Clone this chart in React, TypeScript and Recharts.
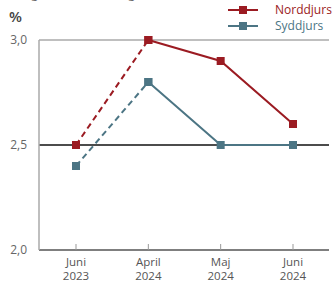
import { LineChart, Line, XAxis, YAxis, ReferenceLine } from 'recharts'

// ─── Data ─────────────────────────────────────────────────────────────────────

const MONTHS = ['Juni', 'April', 'Maj', 'Juni']
const YEARS = ['2023', '2024', '2024', '2024']
const NORDDJURS = [2.5, 3.0, 2.9, 2.6]
const SYDDJURS = [2.4, 2.8, 2.5, 2.5]
const Y_TICKS = [2.0, 2.5, 3.0]

// first segment is dashed, the rest solid -> split each series in two keys
const chartData = MONTHS.map((m, i) => ({
  key: `${m} ${YEARS[i]}`,
  nordDash: i <= 1 ? NORDDJURS[i] : null,
  nordSolid: i >= 1 ? NORDDJURS[i] : null,
  sydDash: i <= 1 ? SYDDJURS[i] : null,
  sydSolid: i >= 1 ? SYDDJURS[i] : null,
}))

const RED = '#9B1B22'
const TEAL = '#4C7584'
const FONT = '"Open Sans", "DejaVu Sans", sans-serif'

// ─── Marks ────────────────────────────────────────────────────────────────────

function square(color: string) {
  // eslint-disable-next-line @typescript-eslint/no-explicit-any
  return (p: any) => {
    if (p.value == null || p.cy == null) return <g key={p.index} />
    return <rect key={p.index} x={p.cx - 4} y={p.cy - 4} width={8} height={8} fill={color} />
  }
}

// eslint-disable-next-line @typescript-eslint/no-explicit-any
function XTick({ x, y, index }: any) {
  return (
    <g>
      <line x1={x} x2={x} y1={y} y2={y - 6} stroke="#999" strokeWidth={1} />
      <text x={x} y={y + 16} textAnchor="middle" fill="#555" fontSize={11.5} fontFamily={FONT}>
        {MONTHS[index]}
      </text>
      <text x={x} y={y + 29.5} textAnchor="middle" fill="#555" fontSize={11.5} fontFamily={FONT}>
        {YEARS[index]}
      </text>
    </g>
  )
}

function LegendRow({ color, label, top }: { color: string; label: string; top: number }) {
  return (
    <div style={{ position: 'absolute', left: 227, top, display: 'flex', alignItems: 'center' }}>
      <svg width={32} height={10}>
        <line x1={1} x2={31} y1={5} y2={5} stroke={color} strokeWidth={2} />
        <rect x={12} y={1} width={8} height={8} fill={color} />
      </svg>
      <span style={{ marginLeft: 16, color, fontSize: 12, fontFamily: FONT, lineHeight: '12px' }}>{label}</span>
    </div>
  )
}

// ─── Component ────────────────────────────────────────────────────────────────

export default function App() {
  return (
    <div style={{ position: 'absolute', left: 0, top: 0, width: 333, height: 282, background: '#fff', overflow: 'hidden' }}>
      <div style={{ position: 'absolute', left: 8, top: -15, fontSize: 12, color: '#666', fontFamily: FONT }}>
        Ledighed, sæsonkorrigeret
      </div>
      <div style={{ position: 'absolute', left: 9, top: 6, fontSize: 15, color: '#444', fontFamily: FONT, fontWeight: 600 }}>
        %
      </div>
      <LegendRow color={RED} label="Norddjurs" top={4} />
      <LegendRow color={TEAL} label="Syddjurs" top={20} />

      <LineChart width={333} height={282} data={chartData}
        margin={{ top: 40, right: 4, bottom: 31, left: 0 }}>
        <XAxis
          dataKey="key"
          tick={<XTick />}
          tickLine={false}
          tickSize={0}
          tickMargin={0}
          height={1}
          padding={{ left: 37, right: 36 }}
          axisLine={{ stroke: '#555', strokeWidth: 1.5 }}
          interval={0}
        />
        <YAxis
          domain={[2, 3]}
          ticks={Y_TICKS}
          tickFormatter={(v) => v.toFixed(1).replace('.', ',')}
          tick={{ fill: '#666', fontSize: 12, fontFamily: FONT }}
          axisLine={{ stroke: '#aaa', strokeWidth: 1.5 }}
          tickLine={false}
          tickMargin={6}
          width={39}
        />
        <ReferenceLine y={3} stroke="#aaa" strokeWidth={1.5} />
        <ReferenceLine y={2.5} stroke="#111" strokeWidth={1.3} />
        <Line dataKey="nordDash" stroke={RED} strokeWidth={2} strokeDasharray="6 4"
          dot={square(RED)} activeDot={false} isAnimationActive={false} connectNulls={false} />
        <Line dataKey="nordSolid" stroke={RED} strokeWidth={2}
          dot={square(RED)} activeDot={false} isAnimationActive={false} connectNulls={false} />
        <Line dataKey="sydDash" stroke={TEAL} strokeWidth={2} strokeDasharray="6 4"
          dot={square(TEAL)} activeDot={false} isAnimationActive={false} connectNulls={false} />
        <Line dataKey="sydSolid" stroke={TEAL} strokeWidth={2}
          dot={square(TEAL)} activeDot={false} isAnimationActive={false} connectNulls={false} />
      </LineChart>
    </div>
  )
}
